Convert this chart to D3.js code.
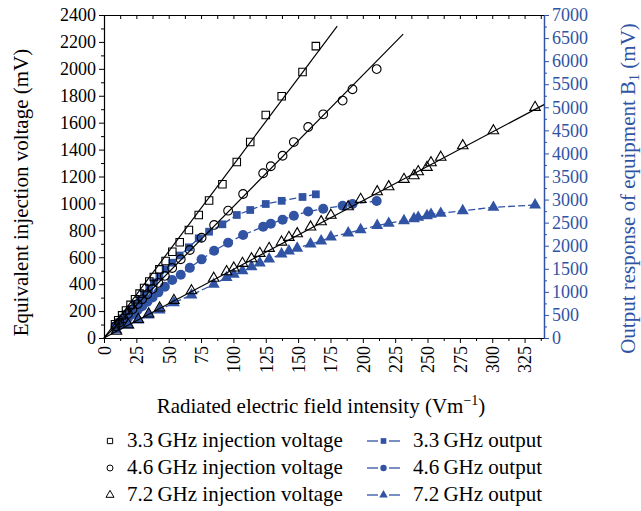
<!DOCTYPE html>
<html>
<head>
<meta charset="utf-8">
<script src="https://cdn.jsdelivr.net/npm/d3@7"></script>
<style>
  body { margin: 0; background: #fff; }
  svg text { font-family: "Liberation Serif", "DejaVu Serif", serif; }
</style>
</head>
<body>
<script>
// field intensity (V/m) and readings for each frequency
var x33 = [163.7,153.4,137.3,125.0,113.0,102.6,91.5,81.2,73.2,65.6,58.5,52.8,47.6,42.8,38.5,35.0,31.0,27.5,24.0,20.5,17.0,14.0,11.0,8.5];
var inj33 = [2169,1976,1796,1657,1456,1308,1142,1022,914,802,711,641,572,510,453,420,372,330,288,246,204,168,132,102];
var out33 = [3114,3056,2973,2904,2774,2666,2464,2304,2161,1966,1788,1632,1489,1328,1207,1077,950,845,735,625,520,430,340,262];

var x46 = [210.7,192.0,184.4,169.4,157.8,146.7,138.0,128.9,123.0,107.5,95.9,85.1,75.4,66.3,59.3,52.7,47.0,42.0,37.5,33.5,29.5,26.0,22.0,18.5,15.0,12.0,9.0];
var inj46 = [1998,1848,1764,1662,1568,1456,1354,1276,1224,1070,946,840,745,654,585,520,462,410,365,325,287,252,213,178,144,115,87];
var out46 = [2969,2904,2867,2800,2742,2650,2564,2477,2412,2232,2065,1890,1705,1521,1371,1257,1112,990,880,785,690,610,515,435,355,285,215];

var x72 = [333.1,300.9,277.2,260.2,252.7,249.6,242.8,239.5,231.8,220.0,211.1,198.3,188.7,175.3,167.8,159.6,149.3,142.9,137.2,127.6,120.4,114.0,107.0,100.3,94.7,84.8,67.6,54.0,43.0,34.5,26.5,18.8,9.6];
var inj72 = [1714,1540,1429,1343,1302,1268,1236,1206,1179,1124,1087,1030,975,912,864,825,775,748,713,666,629,589,555,520,493,444,351,280,223,179,138,98,50];
var out72 = [2882,2832,2759,2702,2681,2650,2616,2585,2542,2486,2438,2347,2276,2189,2102,2037,1946,1885,1820,1712,1625,1545,1458,1380,1310,1164,932,765,607,498,390,282,173];

// linear fits of the injection voltage
var fitX33 = [0, 180.2], fitY33 = [0, 2318];
var fitX46 = [0, 231.2], fitY46 = [0, 2258];
var fitX72 = [0, 340], fitY72 = [0, 1734];

var xTicks = d3.range(0, 326, 25);
var yLeftTicks = d3.range(0, 2401, 200);
var yRightTicks = d3.range(0, 7001, 500);

var legendLeft = ['3.3\u2009GHz injection voltage', '4.6\u2009GHz injection voltage', '7.2\u2009GHz injection voltage'];
var legendRight = ['3.3\u2009GHz output', '4.6\u2009GHz output', '7.2\u2009GHz output'];

var blue = '#3153a4';
var serif = '"Liberation Serif", serif';
var plain = d3.format('d'); // no thousands separator

var svg = d3.select('body').append('svg')
    .attr('width', 641)
    .attr('height', 511);

// plot frame (avoid the global names top/left etc.)
var pLeft = 104, pRight = 544, pTop = 15, pBottom = 338;

var x = d3.scaleLinear().domain([0, 340]).range([pLeft, pRight]);
var yL = d3.scaleLinear().domain([0, 2400]).range([pBottom, pTop]);
var yR = d3.scaleLinear().domain([0, 7000]).range([pBottom, pTop]);

// top frame line with inner ticks
svg.append('g')
    .attr('transform', 'translate(0,' + pTop + ')')
    .call(d3.axisTop(x).tickValues(d3.range(0, 340, 12.5)).tickSize(-4).tickSizeOuter(0).tickFormat(''))
    .call(function(g){ g.select('.domain').attr('stroke-width', 1.2); });

// bottom axis, minor then major
svg.append('g')
    .attr('transform', 'translate(0,' + pBottom + ')')
    .call(d3.axisBottom(x).tickValues(d3.range(12.5, 340, 25)).tickSize(3).tickSizeOuter(0).tickFormat(''));

var xAxis = svg.append('g')
    .attr('transform', 'translate(0,' + pBottom + ')')
    .call(d3.axisBottom(x).tickValues(xTicks).tickSize(5).tickSizeOuter(0).tickFormat(plain));
xAxis.select('.domain').attr('stroke-width', 1.2);
xAxis.selectAll('text')
    .attr('transform', 'rotate(-90)')
    .attr('text-anchor', 'end')
    .attr('x', -8)
    .attr('y', 0)
    .attr('dy', '0.35em')
    .style('font-size', '18px')
    .style('font-family', serif);

// left axis
svg.append('g')
    .attr('transform', 'translate(' + pLeft + ',0)')
    .call(d3.axisLeft(yL).tickValues(d3.range(100, 2400, 200)).tickSize(3).tickSizeOuter(0).tickFormat(''));
var yAxisL = svg.append('g')
    .attr('transform', 'translate(' + pLeft + ',0)')
    .call(d3.axisLeft(yL).tickValues(yLeftTicks).tickSize(5).tickSizeOuter(0).tickFormat(plain));
yAxisL.select('.domain').attr('stroke-width', 1.2);
yAxisL.selectAll('text')
    .attr('x', -8)
    .style('font-size', '18px')
    .style('font-family', serif);

// right axis (blue)
svg.append('g')
    .attr('transform', 'translate(' + pRight + ',0)')
    .call(d3.axisRight(yR).tickValues(d3.range(250, 7000, 500)).tickSize(3).tickSizeOuter(0).tickFormat(''))
    .call(function(g){ g.selectAll('line, path').attr('stroke', blue); });
var yAxisR = svg.append('g')
    .attr('transform', 'translate(' + pRight + ',0)')
    .call(d3.axisRight(yR).tickValues(yRightTicks).tickSize(5).tickSizeOuter(0).tickFormat(plain));
yAxisR.selectAll('line, path').attr('stroke', blue);
yAxisR.select('.domain').attr('stroke-width', 1.5);
yAxisR.selectAll('text')
    .attr('x', 8)
    .attr('fill', blue)
    .style('font-size', '18px')
    .style('font-family', serif);

// axis titles
svg.append('text')
    .attr('transform', 'translate(28,' + ((pTop + pBottom) / 2 + 16) + ') rotate(-90)')
    .attr('text-anchor', 'middle')
    .style('font-size', '21px')
    .text('Equivalent injection voltage (mV)');

var rt = svg.append('text')
    .attr('transform', 'translate(635,' + ((pTop + pBottom) / 2 + 12) + ') rotate(-90)')
    .attr('text-anchor', 'middle')
    .attr('fill', blue)
    .style('font-size', '21px');
rt.append('tspan').text('Output response of equipment B');
rt.append('tspan').attr('dy', 4).style('font-size', '14px').text('1');
rt.append('tspan').attr('dy', -4).text(' (mV)');

var xt = svg.append('text')
    .attr('x', 321)
    .attr('y', 413)
    .attr('text-anchor', 'middle')
    .style('font-size', '21px');
xt.append('tspan').text('Radiated electric field intensity (Vm');
xt.append('tspan').attr('dy', -8).style('font-size', '14px').text('\u22121');
xt.append('tspan').attr('dy', 8).text(')');

// output series (blue, right axis)
var outSeries = [
    {xs: x33, ys: out33, sym: d3.symbolSquare, size: 60},
    {xs: x46, ys: out46, sym: d3.symbolCircle, size: 80},
    {xs: x72, ys: out72, sym: d3.symbolTriangle, size: 62}
];

var line = d3.line();

outSeries.forEach(function(s){
    var pts = s.xs.map(function(v, i){ return [x(v), yR(s.ys[i])]; });
    svg.append('path')
        .attr('d', line(pts))
        .attr('fill', 'none')
        .attr('stroke', blue)
        .attr('stroke-width', 1.3)
        .attr('stroke-dasharray', '7,3');
    svg.append('g').selectAll('path')
        .data(pts)
        .enter()
        .append('path')
        .attr('transform', function(d){ return 'translate(' + d[0] + ',' + d[1] + ')'; })
        .attr('d', d3.symbol().type(s.sym).size(s.size))
        .attr('fill', blue);
});

// injection voltage series (black, left axis)
var injSeries = [
    {xs: x33, ys: inj33, fx: fitX33, fy: fitY33, sym: d3.symbolSquare, size: 56},
    {xs: x46, ys: inj46, fx: fitX46, fy: fitY46, sym: d3.symbolCircle, size: 60},
    {xs: x72, ys: inj72, fx: fitX72, fy: fitY72, sym: d3.symbolTriangle, size: 48}
];

injSeries.forEach(function(s){
    svg.append('path')
        .attr('d', line(s.fx.map(function(v, i){ return [x(v), yL(s.fy[i])]; })))
        .attr('fill', 'none')
        .attr('stroke', '#000')
        .attr('stroke-width', 1.2);
    svg.append('g').selectAll('path')
        .data(s.xs.map(function(v, i){ return [x(v), yL(s.ys[i])]; }))
        .enter()
        .append('path')
        .attr('transform', function(d){ return 'translate(' + d[0] + ',' + d[1] + ')'; })
        .attr('d', d3.symbol().type(s.sym).size(s.size))
        .attr('fill', 'none')
        .attr('stroke', '#000')
        .attr('stroke-width', 1.1);
});

// legend
var legSyms = [d3.symbolSquare, d3.symbolCircle, d3.symbolTriangle];

legendLeft.forEach(function(label, i){
    var yy = 447 + i * 27;
    svg.append('path')
        .attr('transform', 'translate(110,' + (yy - 6) + ')')
        .attr('d', d3.symbol().type(legSyms[i]).size(28))
        .attr('fill', 'none')
        .attr('stroke', '#000')
        .attr('stroke-width', 1);
    svg.append('text')
        .attr('x', 127)
        .attr('y', yy)
        .style('font-size', '21px')
        .text(label);
});

legendRight.forEach(function(label, i){
    var yy = 447 + i * 27;
    [[367, 378], [389, 400]].forEach(function(seg){
        svg.append('line')
            .attr('x1', seg[0]).attr('x2', seg[1])
            .attr('y1', yy - 6).attr('y2', yy - 6)
            .attr('stroke', blue)
            .attr('stroke-width', 1.3);
    });
    svg.append('path')
        .attr('transform', 'translate(383.5,' + (yy - 6) + ')')
        .attr('d', d3.symbol().type(legSyms[i]).size(32))
        .attr('fill', blue);
    svg.append('text')
        .attr('x', 413)
        .attr('y', yy)
        .style('font-size', '21px')
        .text(label);
});
</script>
</body>
</html>
